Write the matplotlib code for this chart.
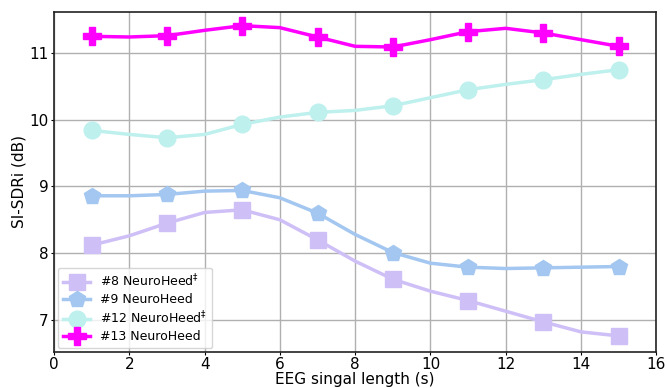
import matplotlib
matplotlib.use("Agg")
import matplotlib.pyplot as plt

x = list(range(1, 16))
s8 = [8.12, 8.26, 8.45, 8.61, 8.65, 8.50, 8.20, 7.88, 7.61, 7.43, 7.29, 7.13, 6.97, 6.82, 6.76]
s9 = [8.86, 8.86, 8.88, 8.93, 8.94, 8.83, 8.60, 8.28, 8.01, 7.85, 7.79, 7.77, 7.78, 7.79, 7.80]
s12 = [9.84, 9.78, 9.73, 9.78, 9.93, 10.04, 10.11, 10.14, 10.21, 10.33, 10.45, 10.53, 10.60, 10.68, 10.75]
s13 = [11.25, 11.24, 11.26, 11.34, 11.41, 11.38, 11.24, 11.10, 11.09, 11.20, 11.32, 11.37, 11.30, 11.20, 11.10]
labels = ["#8 NeuroHeed$^{\u2021}$", "#9 NeuroHeed", "#12 NeuroHeed$^{\u2021}$", "#13 NeuroHeed"]

fig = plt.figure(figsize=(6.67, 3.88), dpi=100)
ax = fig.add_axes([0.081, 0.093, 0.903, 0.877])

styles = [
    (s8, "#CFBFF7", "s", 12),
    (s9, "#A3C7F0", "p", 12),
    (s12, "#BEF0EE", "o", 12),
    (s13, "#FF00FF", "P", 13),
]
for (ys, c, m, ms), lab in zip(styles, labels):
    ax.plot(x, ys, color=c, marker=m, markersize=ms, linewidth=2.5,
            markevery=2, label=lab)

ax.set_xlim(0, 16)
ax.set_ylim(6.52, 11.62)
ax.set_xticks(range(0, 17, 2))
ax.set_yticks([7, 8, 9, 10, 11])
ax.tick_params(labelsize=11, length=2.5, pad=1.5)
ax.grid(True, color="#b0b0b0", linewidth=1)
for sp in ax.spines.values():
    sp.set_linewidth(1.2)
    sp.set_color("#222222")
ax.set_xlabel("EEG singal length (s)", fontsize=11, labelpad=0)
ax.set_ylabel("SI-SDRi (dB)", fontsize=11, labelpad=2)
ax.legend(loc="lower left", fontsize=9, handlelength=2.2, borderpad=0.4,
          labelspacing=0.3, framealpha=0.8, borderaxespad=0.3)
fig.savefig("out.png", dpi=100)
